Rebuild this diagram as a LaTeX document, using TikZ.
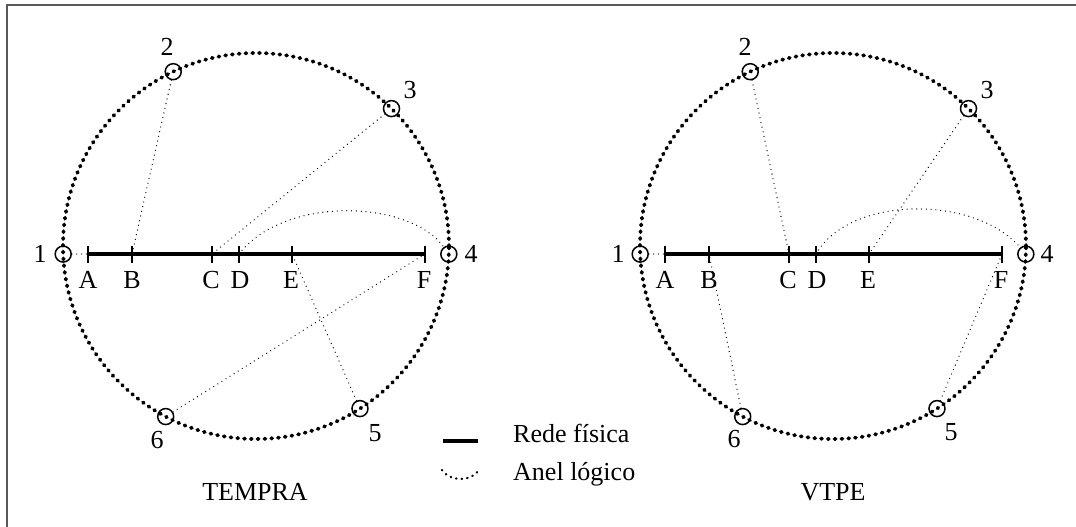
\documentclass[tikz,border=0pt]{standalone}
\usepackage{fontspec}
\setmainfont{Liberation Serif}
\usetikzlibrary{calc}
\begin{document}
\begin{tikzpicture}[x=1pt,y=-1pt,
  ring/.style={line width=3.8pt, dash pattern=on 1pt off 5.8pt, line cap=round},
  logic/.style={line width=1.3pt, dash pattern=on 0pt off 4.8pt, line cap=round},
  legdots/.style={line width=2.2pt, dash pattern=on 0.6pt off 5pt, line cap=round},
  bus/.style={line width=3.2pt},
  tickmark/.style={line width=1.1pt},
  station/.style={circle, draw, line width=1.5pt, minimum size=16pt, inner sep=0pt},
  lbl/.style={font=\fontsize{26}{30}\selectfont, inner sep=0pt},
  frameline/.style={draw=black!65, line width=1.5pt},
]
\useasboundingbox (0,0) rectangle (1076,527);
\coordinate (FrTop) at (1076,5);
\coordinate (FrCorner) at (7,5);
\coordinate (FrBot) at (7,527);
\draw[frameline] (FrTop) -- (FrCorner) -- (FrBot);

% ---------- Left: TEMPRA ----------
\coordinate (Lctr) at (256,246);
\draw[ring] (Lctr) circle[radius=193pt];
\coordinate (LA) at (88,254);
\coordinate (LB) at (132,254);
\coordinate (LC) at (212,254);
\coordinate (LD) at (239,254);
\coordinate (LE) at (292,254);
\coordinate (LF) at (425,254);
\draw[bus] (LA) -- (LF);
\foreach \p in {LA,LB,LC,LD,LE,LF}{
  \draw[tickmark] ([yshift=8.5pt]\p) -- ([yshift=-8.5pt]\p);
}
\node[lbl] (LtA) at (88,280) {A};
\node[lbl] (LtB) at (132,280) {B};
\node[lbl] (LtC) at (211,280) {C};
\node[lbl] (LtD) at (240,280) {D};
\node[lbl] (LtE) at (291,280) {E};
\node[lbl] (LtF) at (424,280) {F};

\node[station] (L1) at ($(Lctr)+(182.4:193pt)$) {};
\node[station] (L2) at ($(Lctr)+(115.4:193pt)$) {};
\node[station] (L3) at ($(Lctr)+(45.4:193pt)$) {};
\node[station] (L4) at ($(Lctr)+(-2.4:193pt)$) {};
\node[station] (L5) at ($(Lctr)+(-57.4:193pt)$) {};
\node[station] (L6) at ($(Lctr)+(-117.9:193pt)$) {};
\node[lbl] (Ln1) at (40,254) {1};
\node[lbl] (Ln2) at (167,47) {2};
\node[lbl] (Ln3) at (410,90) {3};
\node[lbl] (Ln4) at (471,254) {4};
\node[lbl] (Ln5) at (375,433) {5};
\node[lbl] (Ln6) at (157,440) {6};

\draw[logic] (L1) -- (LA);
\draw[logic] (L2) -- (LB);
\draw[logic] (L3) -- (LC);
\draw[logic] (LD) .. controls (285,195) and (410,200) .. (L4);
\draw[logic] (L5) -- (LE);
\draw[logic] (L6) -- (LF);
\node[lbl] (Ltitle) at (255,492) {TEMPRA};

% ---------- Right: VTPE ----------
\coordinate (Rctr) at (833,246);
\draw[ring] (Rctr) circle[radius=193pt];
\coordinate (RA) at (665,254);
\coordinate (RB) at (709,254);
\coordinate (RC) at (789,254);
\coordinate (RD) at (816,254);
\coordinate (RE) at (869,254);
\coordinate (RF) at (1002,254);
\draw[bus] (RA) -- (RF);
\foreach \p in {RA,RB,RC,RD,RE,RF}{
  \draw[tickmark] ([yshift=8.5pt]\p) -- ([yshift=-8.5pt]\p);
}
\node[lbl] (RtA) at (665,280) {A};
\node[lbl] (RtB) at (709,280) {B};
\node[lbl] (RtC) at (788,280) {C};
\node[lbl] (RtD) at (817,280) {D};
\node[lbl] (RtE) at (868,280) {E};
\node[lbl] (RtF) at (1001,280) {F};

\node[station] (R1) at ($(Rctr)+(182.4:193pt)$) {};
\node[station] (R2) at ($(Rctr)+(115.4:193pt)$) {};
\node[station] (R3) at ($(Rctr)+(45.4:193pt)$) {};
\node[station] (R4) at ($(Rctr)+(-2.4:193pt)$) {};
\node[station] (R5) at ($(Rctr)+(-57.4:193pt)$) {};
\node[station] (R6) at ($(Rctr)+(-117.9:193pt)$) {};
\node[lbl] (Rn1) at (618,254) {1};
\node[lbl] (Rn2) at (745,47) {2};
\node[lbl] (Rn3) at (987,90) {3};
\node[lbl] (Rn4) at (1047,254) {4};
\node[lbl] (Rn5) at (951,432) {5};
\node[lbl] (Rn6) at (734,439) {6};

\draw[logic] (R1) -- (RA);
\draw[logic] (R2) -- (RC);
\draw[logic] (R3) -- (RE);
\draw[logic] (RD) .. controls (850,195) and (975,195) .. (R4);
\draw[logic] (R5) -- (RF);
\draw[logic] (R6) -- (RB);
\node[lbl] (Rtitle) at (833,492) {VTPE};

% ---------- Legend ----------
\coordinate (LegA) at (443,441);
\coordinate (LegB) at (478,441);
\draw[bus] (LegA) -- (LegB);
\node[lbl, anchor=base west] (LegT1) at (513,442) {Rede física};
\coordinate (LegC) at (442,470);
\coordinate (LegD) at (479,470);
\draw[legdots] (LegC) .. controls (450,482) and (471,482) .. (LegD);
\node[lbl, anchor=base west] (LegT2) at (513,480) {Anel lógico};
\end{tikzpicture}
\end{document}
